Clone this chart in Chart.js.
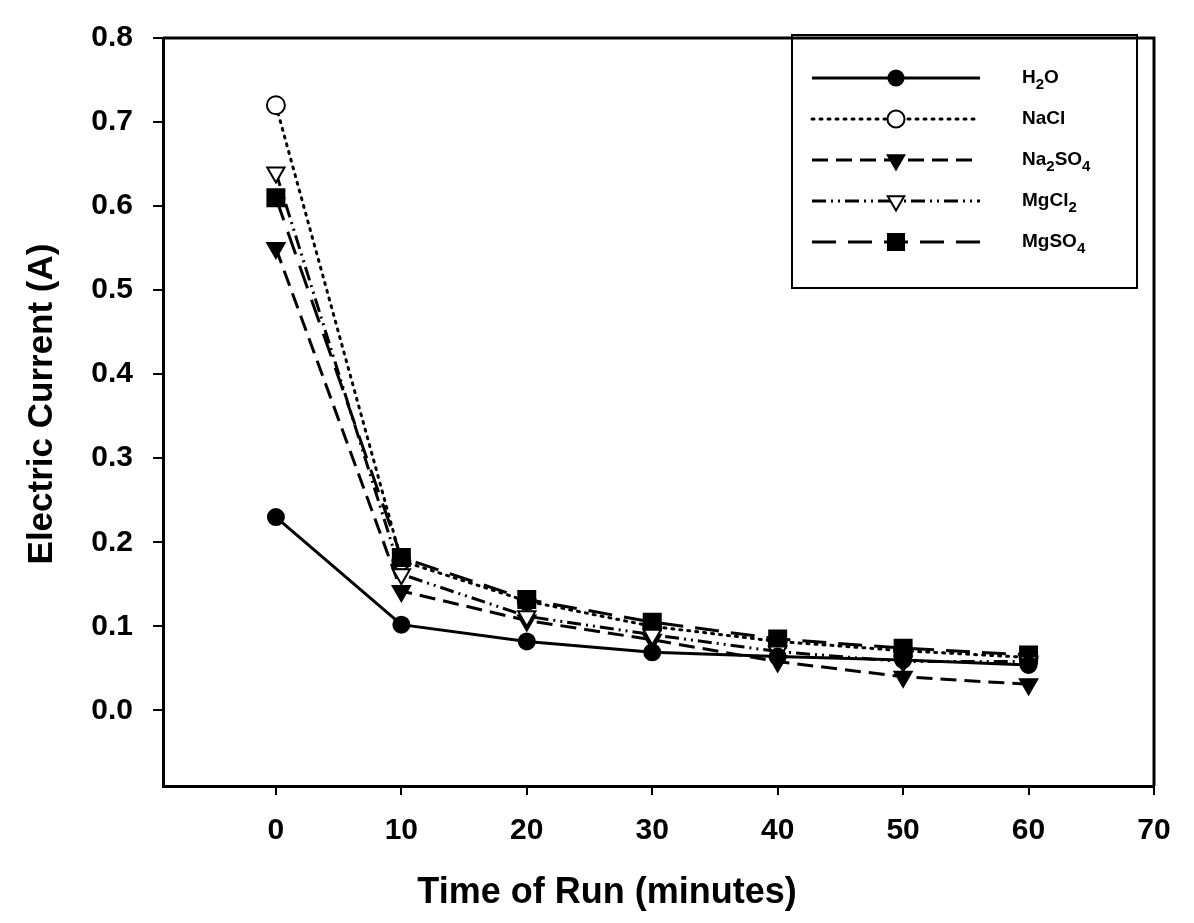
<!DOCTYPE html>
<html>
<head>
<meta charset="utf-8">
<script src="https://cdn.jsdelivr.net/npm/chart.js@4"></script>
<style>
  html, body { margin: 0; padding: 0; background: #fff; }
  #wrap { width: 1194px; height: 923px; position: relative; }
</style>
</head>
<body>
<div id="wrap"><canvas id="myChartCorriente"></canvas></div>
<script>
// time of run (minutes)
const tiempos = [0, 10, 20, 30, 40, 50, 60];

// electric current (A) per solution
const serieH2O = [0.23, 0.102, 0.082, 0.069, 0.064, 0.06, 0.054];
const serieNaCl = [0.72, 0.178, 0.13, 0.1, 0.082, 0.071, 0.063];
const serieNa2SO4 = [0.55, 0.142, 0.107, 0.084, 0.058, 0.04, 0.031];
const serieMgCl2 = [0.64, 0.162, 0.112, 0.09, 0.07, 0.058, 0.058];
const serieMgSO4 = [0.61, 0.182, 0.132, 0.105, 0.085, 0.074, 0.066];

const nombresSeries = ['H2O', 'NaCl', 'Na2SO4', 'MgCl2', 'MgSO4'];

// tick labels
const ticksX = [0, 10, 20, 30, 40, 50, 60, 70];
const ticksY = [0.0, 0.1, 0.2, 0.3, 0.4, 0.5, 0.6, 0.7, 0.8];

document.addEventListener('DOMContentLoaded', function() {
    const canvas = document.getElementById('myChartCorriente');
    const fuente = "'Liberation Sans', Arial, sans-serif";

    function puntos(valores) {
        return tiempos.map(function(t, i) { return { x: t, y: valores[i] }; });
    }

    function serie(nombre, valores, estilo) {
        return Object.assign({
            label: nombre,
            data: puntos(valores),
            borderColor: '#000',
            pointBorderColor: '#000',
            borderWidth: 3,
            pointBorderWidth: 2,
            fill: false,
            tension: 0
        }, estilo);
    }

    // order: higher values are drawn first (underneath)
    const datasets = [
        serie(nombresSeries[0], serieH2O, {
            pointStyle: 'circle', pointRadius: 8, pointBackgroundColor: '#000', borderDash: [], order: 1
        }),
        serie(nombresSeries[1], serieNaCl, {
            pointStyle: 'circle', pointRadius: 9, pointBackgroundColor: '#fff', borderDash: [2, 6], borderCapStyle: 'round', order: 9
        }),
        serie(nombresSeries[2], serieNa2SO4, {
            pointStyle: 'triangle', pointRotation: 180, pointRadius: 10, pointBackgroundColor: '#000', borderDash: [16, 8], order: 4
        }),
        serie(nombresSeries[3], serieMgCl2, {
            pointStyle: 'triangle', pointRotation: 180, pointRadius: 10, pointBackgroundColor: '#fff', borderDash: [14, 5, 2, 5, 2, 5], order: 3
        }),
        serie(nombresSeries[4], serieMgSO4, {
            pointStyle: 'rect', pointRadius: 12, pointBackgroundColor: '#000', borderDash: [24, 12], order: 5
        })
    ];

    // text with digits drawn as subscripts (chemical formulas)
    function textoFormula(ctx, texto, x, y) {
        let cx = x;
        for (const ch of texto) {
            const sub = /[0-9]/.test(ch);
            ctx.font = sub ? 'bold 15px ' + fuente : 'bold 19px ' + fuente;
            ctx.fillText(ch, cx, sub ? y + 7 : y);
            cx += ctx.measureText(ch).width;
        }
    }

    const marcoYLeyenda = {
        id: 'marcoYLeyenda',
        afterDraw: function(chart) {
            const ctx = chart.ctx;
            const area = chart.chartArea;
            ctx.save();
            // top and right frame
            ctx.strokeStyle = '#000';
            ctx.lineWidth = 3;
            ctx.beginPath();
            ctx.moveTo(area.left, area.top);
            ctx.lineTo(area.right, area.top);
            ctx.lineTo(area.right, area.bottom);
            ctx.stroke();

            // axis titles
            ctx.fillStyle = '#000';
            ctx.textAlign = 'center';
            ctx.textBaseline = 'middle';
            ctx.font = 'bold 36px ' + fuente;
            ctx.fillText('Time of Run (minutes)', 607, 893);
            ctx.save();
            ctx.translate(42, 404);
            ctx.rotate(-Math.PI / 2);
            ctx.font = 'bold 35px ' + fuente;
            ctx.fillText('Electric Current (A)', 0, 0);
            ctx.restore();

            // legend box
            ctx.lineWidth = 2;
            ctx.strokeRect(792, 35, 345, 253);
            ctx.textAlign = 'left';
            chart.data.datasets.forEach(function(ds, i) {
                const y = 78 + i * 41;
                ctx.save();
                ctx.lineWidth = ds.borderWidth;
                ctx.lineCap = ds.borderCapStyle || 'butt';
                ctx.setLineDash(ds.borderDash);
                ctx.beginPath();
                ctx.moveTo(812, y);
                ctx.lineTo(980, y);
                ctx.stroke();
                ctx.setLineDash([]);
                ctx.fillStyle = ds.pointBackgroundColor;
                ctx.strokeStyle = '#000';
                ctx.lineWidth = ds.pointBorderWidth;
                Chart.helpers.drawPoint(ctx, {
                    pointStyle: ds.pointStyle,
                    rotation: ds.pointRotation || 0,
                    radius: ds.pointRadius * 0.95,
                    borderWidth: ds.pointBorderWidth
                }, 896, y);
                ctx.restore();
                ctx.fillStyle = '#000';
                textoFormula(ctx, ds.label, 1022, y);
            });
            ctx.restore();
        }
    };

    new Chart(canvas.getContext('2d'), {
        type: 'line',
        data: { datasets: datasets },
        options: {
            responsive: true,
            maintainAspectRatio: false,
            animation: false,
            layout: { padding: { left: 0, right: 40, top: 26, bottom: 0 } },
            plugins: {
                legend: { display: false },
                tooltip: { enabled: false }
            },
            scales: {
                x: {
                    type: 'linear',
                    min: -9,
                    max: 70,
                    afterBuildTicks: function(scale) {
                        scale.ticks = ticksX.map(function(v) { return { value: v }; });
                    },
                    afterFit: function(scale) { scale.height = 137; },
                    ticks: {
                        color: '#000',
                        font: { family: fuente, size: 30, weight: 'bold' },
                        padding: 18,
                        maxRotation: 0
                    },
                    grid: { drawOnChartArea: false, drawTicks: true, tickLength: 9, color: '#000', lineWidth: 2 },
                    border: { display: true, color: '#000', width: 3 }
                },
                y: {
                    type: 'linear',
                    min: -0.09,
                    max: 0.8,
                    afterBuildTicks: function(scale) {
                        scale.ticks = ticksY.map(function(v) { return { value: v }; });
                    },
                    afterFit: function(scale) { scale.width = 163; },
                    ticks: {
                        color: '#000',
                        font: { family: fuente, size: 30, weight: 'bold' },
                        padding: 20,
                        callback: function(v) { return v.toFixed(1); }
                    },
                    grid: { drawOnChartArea: false, drawTicks: true, tickLength: 10, color: '#000', lineWidth: 2 },
                    border: { display: true, color: '#000', width: 3 }
                }
            }
        },
        plugins: [marcoYLeyenda]
    });
});
</script>
</body>
</html>
